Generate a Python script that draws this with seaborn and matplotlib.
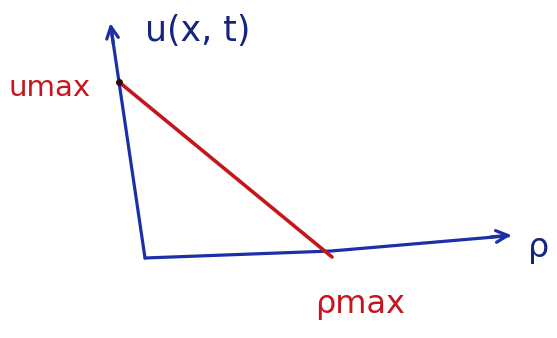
import numpy as np
import pandas as pd
import seaborn as sns
import matplotlib
matplotlib.use("Agg")
import matplotlib.pyplot as plt
from matplotlib.transforms import Affine2D

# Greenshields-type speed-density relation: u = u_max * (1 - rho / rho_max)
rho = [0.0, 1.0]          # density, in units of rho_max
u = [1.0, 0.0]            # speed, in units of u_max
labels = {"u_axis": "u(x, t)", "rho_axis": "ρ", "u_max": "umax", "rho_max": "ρmax"}

sns.set_theme(style="white")

W, H = 557, 338
fig = plt.figure(figsize=(W / 100, H / 100), dpi=100)
ax = fig.add_axes([0, 0, 1, 1])

# Slightly skewed hand-drawn axes: (rho, u) -> canvas
skew = Affine2D.from_values(187, -1, -26, -176, 145, 258) + ax.transData

blue = "#1c2fa6"
navy = "#15257e"
red = "#c4161c"

# axes with arrow heads
ax.plot([0, 0], [0, 1.3], color=blue, lw=2.3, transform=skew, solid_capstyle="round")
ax.plot([0, 1.0, 1.96], [0, 0.034, 0.115], color=blue, lw=2.3, transform=skew,
        solid_capstyle="round")
ax.annotate("", xy=(0, 1.35), xytext=(0, 1.2), xycoords=skew, textcoords=skew,
            arrowprops=dict(arrowstyle="->,head_length=0.7,head_width=0.35", color=blue, lw=2.3))
ax.annotate("", xy=(1.99, 0.12), xytext=(1.85, 0.108), xycoords=skew, textcoords=skew,
            arrowprops=dict(arrowstyle="->,head_length=0.7,head_width=0.35", color=blue, lw=2.3))

# speed-density line
df = pd.DataFrame({"rho": rho, "u": u})
sns.lineplot(data=df, x="rho", y="u", ax=ax, color=red, lw=2.6, transform=skew)
ax.plot([0], [1.0], "o", color="#2a0a0a", ms=4, transform=skew)

ax.set_xlim(0, W)
ax.set_ylim(H, 0)
ax.set_xlabel("")
ax.set_ylabel("")
ax.axis("off")

ax.text(198, 31, labels["u_axis"], color=navy, fontsize=25, ha="center", va="center")
ax.text(50, 88, labels["u_max"], color=red, fontsize=21, ha="center", va="center")
ax.text(360, 304, labels["rho_max"], color=red, fontsize=23, ha="center", va="center")
ax.text(539, 248, labels["rho_axis"], color=navy, fontsize=24, ha="center", va="center")

fig.savefig("out.png", dpi=100)
